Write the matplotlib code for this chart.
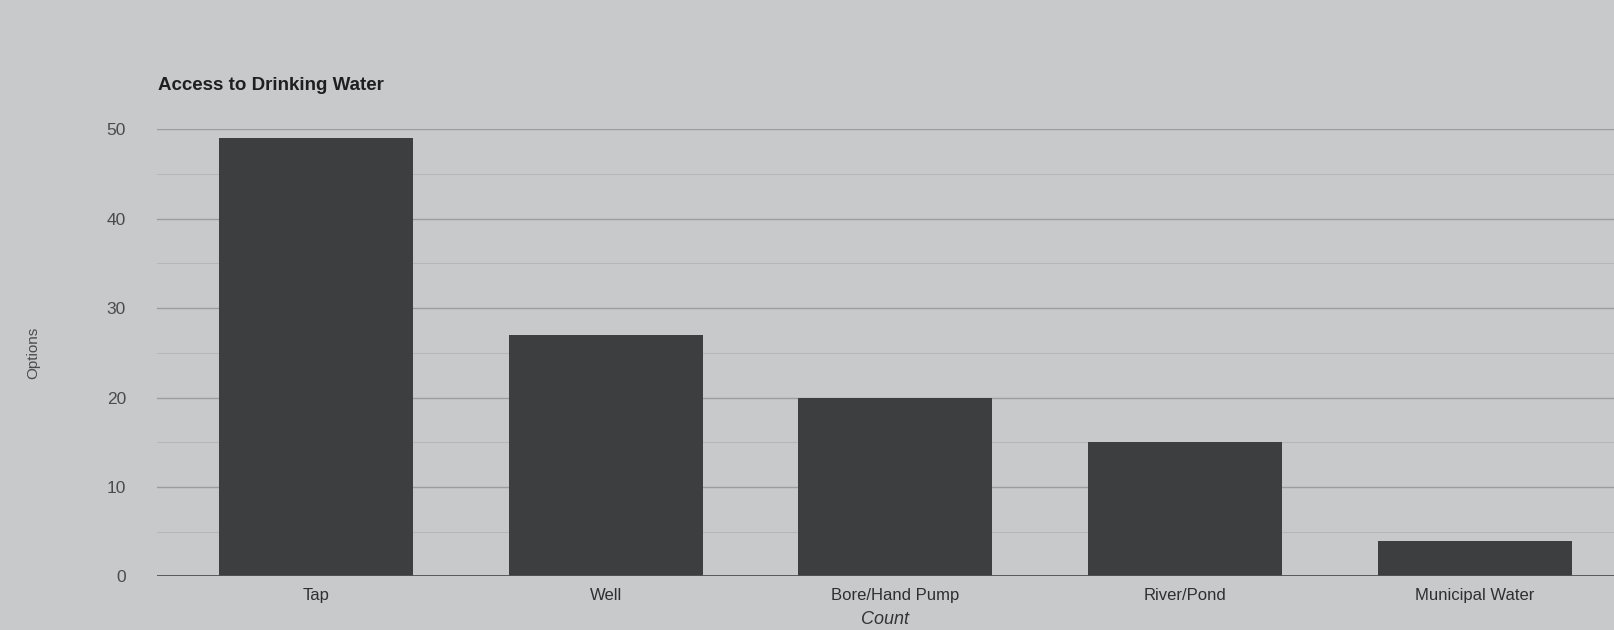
import numpy as np
import matplotlib.pyplot as plt
from matplotlib.ticker import MultipleLocator

categories = ['Tap', 'Well', 'Bore/Hand Pump', 'River/Pond', 'Municipal Water']
counts = [49, 27, 20, 15, 4]
y_ticks = [0, 10, 20, 30, 40, 50]

plt.rcParams['font.family'] = ['Liberation Sans', 'DejaVu Sans']

bg = '#c8c9cb'
fig = plt.figure(figsize=(16.14, 6.3), dpi=100, facecolor=bg)
ax = fig.add_axes([0.097, 0.085, 0.903, 0.71], facecolor=bg)

x = np.arange(len(categories))
ax.bar(x, counts, width=0.67, color='#3c3e40', zorder=3)

ax.set_xlim(-0.55, 4.48)
ax.set_ylim(0, 50)
ax.set_yticks(y_ticks)
ax.yaxis.set_minor_locator(MultipleLocator(5))

# grid: darker every 10, lighter every 5
ax.grid(axis='y', which='major', color='#9c9d9f', linewidth=1.0, zorder=0)
ax.grid(axis='y', which='minor', color='#b6b7b9', linewidth=0.8, zorder=0)
ax.axhline(0, color='#505254', linewidth=1.3, zorder=4)

for s in ax.spines.values():
    s.set_visible(False)
ax.tick_params(axis='both', which='both', length=0)
ax.tick_params(axis='y', labelsize=12.5, labelcolor='#4a4b4d', pad=22)
ax.tick_params(axis='x', labelsize=12, labelcolor='#2e2f31', pad=8)
ax.set_xticks(x)
ax.set_xticklabels(categories)

ax.set_ylabel('Options', fontsize=11, color='#4a4b4d', labelpad=48)
ax.set_xlabel('Count', fontsize=13, color='#333436', style='italic', labelpad=6)

fig.text(0.098, 0.85, 'Access to Drinking Water', fontsize=13.5,
         fontweight='bold', color='#1e1f21', ha='left', va='bottom')

fig.savefig('out.png', dpi=100, facecolor=bg)
